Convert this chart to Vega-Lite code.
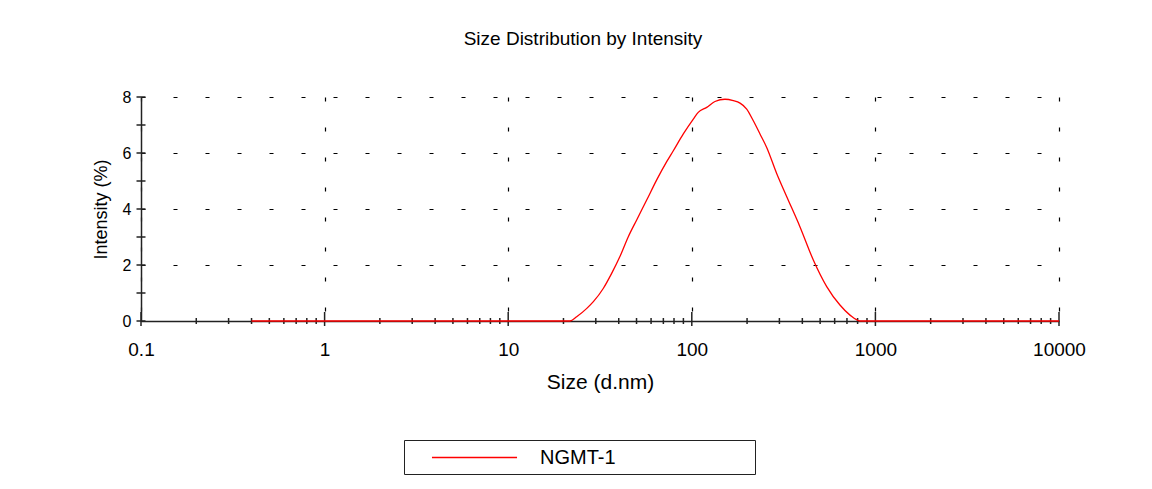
{
  "$schema": "https://vega.github.io/schema/vega-lite/v6.json",
  "width": 918,
  "height": 224,
  "autosize": {"type": "none"},
  "padding": {"left": 141, "top": 97, "right": 93, "bottom": 168},
  "background": "white",
  "title": {"text": "Size Distribution by Intensity", "fontSize": 19, "fontWeight": "normal", "font": "Liberation Sans", "offset": 40, "dx": -17, "color": "black"},
  "config": {"view": {"stroke": null}, "font": "Liberation Sans"},
  "datasets": {
    "curve": [
      {"size": 0.4, "intensity": 0, "sample": "NGMT-1"},
      {"size": 1, "intensity": 0, "sample": "NGMT-1"},
      {"size": 10, "intensity": 0, "sample": "NGMT-1"},
      {"size": 21.7, "intensity": 0, "sample": "NGMT-1"},
      {"size": 23.6, "intensity": 0.15, "sample": "NGMT-1"},
      {"size": 26.8, "intensity": 0.45, "sample": "NGMT-1"},
      {"size": 29.1, "intensity": 0.69, "sample": "NGMT-1"},
      {"size": 33.0, "intensity": 1.17, "sample": "NGMT-1"},
      {"size": 36.6, "intensity": 1.7, "sample": "NGMT-1"},
      {"size": 40.6, "intensity": 2.3, "sample": "NGMT-1"},
      {"size": 45.1, "intensity": 3.01, "sample": "NGMT-1"},
      {"size": 50.1, "intensity": 3.61, "sample": "NGMT-1"},
      {"size": 56.8, "intensity": 4.32, "sample": "NGMT-1"},
      {"size": 64.4, "intensity": 5.04, "sample": "NGMT-1"},
      {"size": 73.0, "intensity": 5.69, "sample": "NGMT-1"},
      {"size": 79.3, "intensity": 6.08, "sample": "NGMT-1"},
      {"size": 89.9, "intensity": 6.68, "sample": "NGMT-1"},
      {"size": 101.9, "intensity": 7.21, "sample": "NGMT-1"},
      {"size": 108.4, "intensity": 7.45, "sample": "NGMT-1"},
      {"size": 120.6, "intensity": 7.63, "sample": "NGMT-1"},
      {"size": 133.7, "intensity": 7.84, "sample": "NGMT-1"},
      {"size": 151.6, "intensity": 7.92, "sample": "NGMT-1"},
      {"size": 168.3, "intensity": 7.87, "sample": "NGMT-1"},
      {"size": 183.1, "intensity": 7.78, "sample": "NGMT-1"},
      {"size": 199.1, "intensity": 7.57, "sample": "NGMT-1"},
      {"size": 216.3, "intensity": 7.15, "sample": "NGMT-1"},
      {"size": 235.2, "intensity": 6.68, "sample": "NGMT-1"},
      {"size": 255.8, "intensity": 6.2, "sample": "NGMT-1"},
      {"size": 289.9, "intensity": 5.27, "sample": "NGMT-1"},
      {"size": 329, "intensity": 4.44, "sample": "NGMT-1"},
      {"size": 388, "intensity": 3.37, "sample": "NGMT-1"},
      {"size": 459, "intensity": 2.18, "sample": "NGMT-1"},
      {"size": 543, "intensity": 1.23, "sample": "NGMT-1"},
      {"size": 641, "intensity": 0.57, "sample": "NGMT-1"},
      {"size": 727, "intensity": 0.21, "sample": "NGMT-1"},
      {"size": 824, "intensity": 0, "sample": "NGMT-1"},
      {"size": 1000, "intensity": 0, "sample": "NGMT-1"},
      {"size": 10000, "intensity": 0, "sample": "NGMT-1"}
    ],
    "xmajor": [
      {"size": 0.1}, {"size": 1}, {"size": 10}, {"size": 100}, {"size": 1000}, {"size": 10000}
    ],
    "xminor": [
      {"size": 0.2}, {"size": 0.3}, {"size": 0.4}, {"size": 0.5}, {"size": 0.6}, {"size": 0.7}, {"size": 0.8}, {"size": 0.9},
      {"size": 2}, {"size": 3}, {"size": 4}, {"size": 5}, {"size": 6}, {"size": 7}, {"size": 8}, {"size": 9},
      {"size": 20}, {"size": 30}, {"size": 40}, {"size": 50}, {"size": 60}, {"size": 70}, {"size": 80}, {"size": 90},
      {"size": 200}, {"size": 300}, {"size": 400}, {"size": 500}, {"size": 600}, {"size": 700}, {"size": 800}, {"size": 900},
      {"size": 2000}, {"size": 3000}, {"size": 4000}, {"size": 5000}, {"size": 6000}, {"size": 7000}, {"size": 8000}, {"size": 9000}
    ],
    "yticks": [
      {"intensity": 0}, {"intensity": 1}, {"intensity": 2}, {"intensity": 3}, {"intensity": 4},
      {"intensity": 5}, {"intensity": 6}, {"intensity": 7}, {"intensity": 8}
    ]
  },
  "layer": [
    {
      "data": {"name": "xmajor"},
      "mark": {"type": "tick", "orient": "vertical", "size": 14, "thickness": 1.5, "color": "#222", "opacity": 1, "yOffset": -2},
      "encoding": {
        "x": {
          "field": "size", "type": "quantitative",
          "scale": {"type": "log", "domain": [0.1, 10000]},
          "axis": {
            "title": "Size (d.nm)", "titleFontSize": 21, "titleFontWeight": "normal", "titleColor": "black", "titlePadding": 12,
            "values": [0.1, 1, 10, 100, 1000, 10000], "format": "~g",
            "labelFontSize": 19, "labelColor": "black", "labelPadding": 19, "labelFlush": false,
            "ticks": false, "domainColor": "#222", "domainWidth": 1.5,
            "grid": true, "gridColor": "black", "gridDash": [4, 26], "gridWidth": 1.2, "gridOpacity": 1
          }
        },
        "y": {"datum": 0, "type": "quantitative"}
      }
    },
    {
      "data": {"name": "xminor"},
      "mark": {"type": "tick", "orient": "vertical", "size": 6, "thickness": 1.5, "color": "#222", "opacity": 1},
      "encoding": {
        "x": {"field": "size", "type": "quantitative"},
        "y": {"datum": 0, "type": "quantitative"}
      }
    },
    {
      "data": {"name": "yticks"},
      "mark": {"type": "tick", "orient": "horizontal", "size": 9, "thickness": 1.5, "color": "#222", "opacity": 1},
      "encoding": {
        "x": {"datum": 0.1, "type": "quantitative"},
        "y": {
          "field": "intensity", "type": "quantitative",
          "scale": {"domain": [0, 8]},
          "axis": {
            "title": "Intensity (%)", "titleFontSize": 18, "titleFontWeight": "normal", "titleColor": "black", "titlePadding": 12,
            "values": [0, 2, 4, 6, 8], "format": "d",
            "labelFontSize": 16, "labelColor": "black", "labelPadding": 10, "labelFlush": false,
            "ticks": false, "domainColor": "#222", "domainWidth": 1.5,
            "grid": true, "gridColor": "black", "gridDash": [4, 28], "gridWidth": 1.2, "gridOpacity": 1
          }
        }
      }
    },
    {
      "data": {"name": "curve"},
      "mark": {"type": "line", "interpolate": "monotone", "strokeWidth": 1.3},
      "encoding": {
        "x": {"field": "size", "type": "quantitative"},
        "y": {"field": "intensity", "type": "quantitative"},
        "color": {
          "field": "sample", "type": "nominal",
          "scale": {"range": ["#ff0000"]},
          "legend": {
            "orient": "none", "legendX": 263, "legendY": 343, "title": null,
            "strokeColor": "#222", "fillColor": "white", "padding": 6,
            "symbolType": "M-4,0H4", "symbolSize": 452, "symbolStrokeWidth": 1.5,
            "labelFontSize": 20, "labelColor": "black", "labelOffset": 54, "symbolOffset": 53,
            "labelLimit": 500,
            "labelExpr": "datum.label + '\u00a0\u00a0\u00a0\u00a0\u00a0\u00a0\u00a0\u00a0\u00a0\u00a0\u00a0\u00a0\u00a0\u00a0\u00a0\u00a0\u00a0\u00a0\u00a0\u00a0\u00a0\u00a0\u00a0\u00a0\u200b'"
          }
        }
      }
    }
  ]
}
